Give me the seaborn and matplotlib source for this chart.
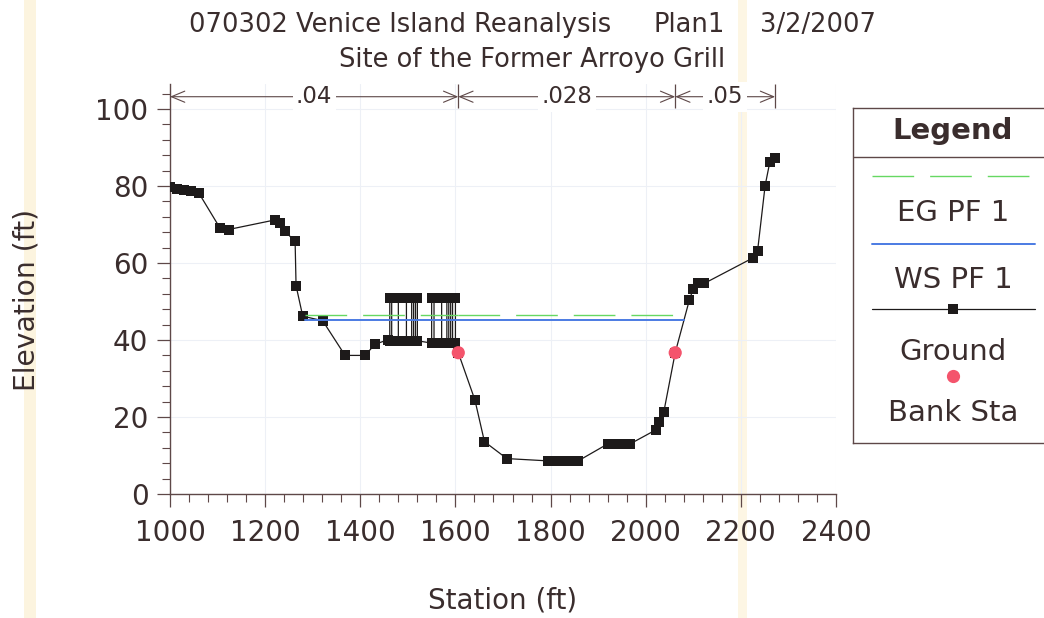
import matplotlib
matplotlib.use("Agg")
import matplotlib.pyplot as plt
import pandas as pd
import seaborn as sns
from matplotlib.lines import Line2D
from matplotlib.patches import Rectangle
from matplotlib.ticker import MultipleLocator

# ---- cross-section survey (station ft, elevation ft) ----
station = [1000, 1015, 1030, 1045, 1060, 1105, 1123, 1221, 1231, 1242, 1263, 1265,
           1279, 1321, 1368, 1410, 1431, 1459,
           1462, 1462, 1466, 1466, 1480, 1480, 1497, 1497, 1508, 1508, 1512, 1512,
           1516, 1516, 1520, 1520,
           1550, 1550, 1555, 1555, 1571, 1571, 1582, 1582, 1586, 1586, 1590, 1590,
           1594, 1594, 1600, 1600,
           1606, 1641, 1661, 1708, 1795, 1810, 1825, 1840, 1858, 1920, 1935, 1950,
           1967, 2022, 2027, 2038, 2062, 2092, 2100, 2109, 2123, 2225, 2235, 2251,
           2261, 2272]
elevation = [79.7, 79.3, 79.0, 78.8, 78.3, 69.1, 68.7, 71.2, 70.5, 68.2, 65.6, 54.1,
             46.2, 45.0, 36.0, 36.0, 38.9, 40.1,
             39.8, 50.8, 50.8, 39.8, 39.8, 50.8, 50.8, 39.8, 39.8, 50.8, 50.8, 39.8,
             39.8, 50.8, 50.8, 39.8,
             39.2, 50.8, 50.8, 39.2, 39.2, 50.8, 50.8, 39.2, 39.2, 50.8, 50.8, 39.2,
             39.2, 50.8, 50.8, 39.2,
             36.7, 24.4, 13.6, 9.2, 8.6, 8.6, 8.6, 8.6, 8.6, 13.0, 13.0, 13.0,
             13.0, 16.7, 18.6, 21.3, 36.7, 50.5, 53.3, 54.7, 54.7, 61.3, 63.0, 80.1,
             86.3, 87.2]

bank_station = [1606, 2062]
bank_elevation = [36.7, 36.7]

ws_elevation = 45.2          # WS PF 1
ws_extent = [1283, 2080]
eg_elevation = 46.4          # EG PF 1
eg_lob_extent = [1283, 1606]
eg_channel_extent = [1606, 2080]

n_bounds = [1000, 1606, 2062, 2272]
n_values = [".04", ".028", ".05"]

x_ticks = list(range(1000, 2401, 200))
y_ticks = list(range(0, 101, 20))

# ---- style ----
sns.set_theme(style="white")
plt.rcParams["font.family"] = ["DejaVu Sans"]
INK = "#3a2d2d"
AXIS = "#5e4848"
GROUND = "#1d1a1a"
WS_BLUE = "#4b7be3"
EG_GREEN = "#66d862"
BANK_RED = "#f4546c"
EG_LW = 1.0
EG_DASH = (0, (30 / EG_LW, 11.5 / EG_LW))

W, H = 1044, 618
fig = plt.figure(figsize=(W / 100, H / 100), dpi=100)
fig.patch.set_facecolor("white")

# pale vertical bands on the sheet
fig.add_artist(Rectangle((24 / W, 0), 12 / W, 1, transform=fig.transFigure,
                         color="#fbeecb", alpha=0.6, lw=0, zorder=-2))
fig.add_artist(Rectangle((738 / W, 0), 9 / W, 1, transform=fig.transFigure,
                         color="#fcf0d2", alpha=0.6, lw=0, zorder=-2))

ax = fig.add_axes([170 / W, 1 - 494 / H, 666 / W, 410 / H])
ax.set_facecolor("none")

ground = pd.DataFrame({"Station": station, "Elevation": elevation})
sns.lineplot(data=ground, x="Station", y="Elevation", sort=False, estimator=None,
             color=GROUND, linewidth=0.9, marker="s", markersize=7.2,
             markeredgewidth=0, markerfacecolor=GROUND, ax=ax, zorder=3)

ws = pd.DataFrame({"Station": ws_extent, "Elevation": [ws_elevation] * 2})
sns.lineplot(data=ws, x="Station", y="Elevation", color=WS_BLUE, linewidth=1.4,
             linestyle="-", ax=ax, zorder=4)

# energy grade, drawn per subsection (left overbank, channel)
for extent in (eg_lob_extent, eg_channel_extent):
    eg = pd.DataFrame({"Station": extent, "Elevation": [eg_elevation] * 2})
    sns.lineplot(data=eg, x="Station", y="Elevation", color=EG_GREEN,
                 linewidth=EG_LW, linestyle=EG_DASH, ax=ax, zorder=4)

sns.scatterplot(x=bank_station, y=bank_elevation, s=90, color=BANK_RED,
                edgecolor="none", ax=ax, zorder=5)

# Manning's n regions along the top
y_arrow = 103.2
for x0, x1, label in zip(n_bounds[:-1], n_bounds[1:], n_values):
    ax.annotate("", xy=(x1, y_arrow), xytext=(x0, y_arrow),
                arrowprops=dict(arrowstyle="<->,head_length=0.6,head_width=0.25",
                                color=AXIS, lw=0.8, shrinkA=0, shrinkB=0,
                                mutation_scale=16), zorder=6)
    ax.text((x0 + x1) / 2, y_arrow, label, ha="center", va="center",
            fontsize=16.5, color=INK, zorder=7,
            bbox=dict(facecolor="white", edgecolor="none", pad=2.5))
for xb in n_bounds[1:]:
    ax.plot([xb, xb], [100.3, 106.4], color=AXIS, lw=0.9, zorder=6,
            solid_capstyle="butt")

ax.set_xlim(1000, 2400)
ax.set_ylim(0, 106.5)
ax.set_xticks(x_ticks)
ax.set_yticks(y_ticks)
ax.xaxis.set_minor_locator(MultipleLocator(40))
ax.yaxis.set_minor_locator(MultipleLocator(4))
for side in ("top", "right"):
    ax.spines[side].set_visible(False)
for side in ("left", "bottom"):
    ax.spines[side].set_color(AXIS)
    ax.spines[side].set_linewidth(1.0)
ax.tick_params(which="major", direction="out", length=9.5, width=0.9, color=AXIS,
               labelsize=20, labelcolor=INK, left=True, bottom=True)
ax.tick_params(axis="x", which="major", pad=8.5)
ax.tick_params(axis="y", which="major", pad=6)
ax.tick_params(which="minor", direction="out", length=6, width=0.8, color=AXIS,
               left=True, bottom=True)
ax.grid(which="major", color="#edf0f6", linewidth=0.8)
ax.set_axisbelow(True)
ax.set_xlabel("")
ax.set_ylabel("")

fig.text(503 / W, 1 - 600 / H, "Station (ft)", ha="center", va="center",
         fontsize=20, color=INK)
fig.text(27 / W, 1 - 300 / H, "Elevation (ft)", ha="center", va="center",
         rotation=90, fontsize=20.3, color=INK)

# titles
fig.text(189 / W, 1 - 32 / H, "070302 Venice Island Reanalysis", ha="left",
         va="baseline", fontsize=18.5, color=INK)
fig.text(653 / W, 1 - 32 / H, "Plan1", ha="left", va="baseline", fontsize=18.5, color=INK)
fig.text(760 / W, 1 - 32 / H, "3/2/2007", ha="left", va="baseline", fontsize=18.5, color=INK)
fig.text(532 / W, 1 - 66.7 / H, "Site of the Former Arroyo Grill", ha="center",
         va="baseline", fontsize=18.5, color=INK)

# legend panel
lax = fig.add_axes([853 / W, 1 - 443 / H, 200 / W, 335 / H])
lax.set_xlim(853, 1053)
lax.set_ylim(443, 108)
lax.set_xticks([])
lax.set_yticks([])
lax.set_facecolor("white")
for sp in lax.spines.values():
    sp.set_color(AXIS)
    sp.set_linewidth(1.0)
lax.axhline(157, color=AXIS, lw=1.0)
lax.text(953, 131, "Legend", ha="center", va="center", fontsize=21,
         fontweight="bold", color=INK)
lax.add_line(Line2D([872, 1035], [176, 176], color=EG_GREEN, lw=EG_LW,
                    linestyle=EG_DASH))
lax.text(953, 213, "EG PF 1", ha="center", va="center", fontsize=21, color=INK)
lax.add_line(Line2D([872, 1035], [244, 244], color=WS_BLUE, lw=1.4))
lax.text(953, 280, "WS PF 1", ha="center", va="center", fontsize=21, color=INK)
lax.add_line(Line2D([872, 1035], [309, 309], color=GROUND, lw=0.9))
lax.add_line(Line2D([953], [309], color=GROUND, marker="s", markersize=7.2,
                    markeredgewidth=0, linestyle="none"))
lax.text(953, 352, "Ground", ha="center", va="center", fontsize=21, color=INK)
lax.add_line(Line2D([953], [376], color=BANK_RED, marker="o", markersize=9.5,
                    markeredgewidth=0, linestyle="none"))
lax.text(953, 413, "Bank Sta", ha="center", va="center", fontsize=21, color=INK)

fig.savefig("out.png", dpi=100, facecolor="white")
